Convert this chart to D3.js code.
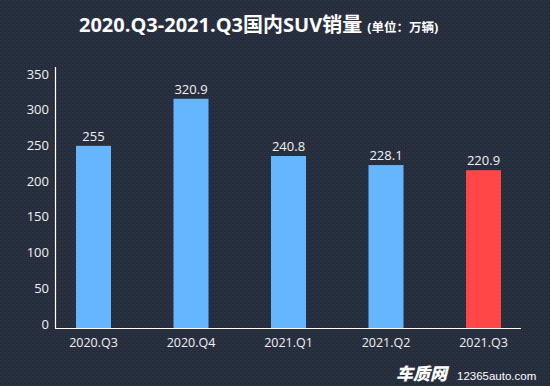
<!DOCTYPE html>
<html>
<head>
<meta charset="utf-8">
<script src="https://cdn.jsdelivr.net/npm/d3@7"></script>
<style>
html,body{margin:0;padding:0;background:#262e3d;}
svg{display:block;}
</style>
</head>
<body>
<svg id="chart" width="550" height="386"></svg>
<script>
const categories = ["2020.Q3", "2020.Q4", "2021.Q1", "2021.Q2", "2021.Q3"];
const values = [255, 320.9, 240.8, 228.1, 220.9];
const yTicks = [0, 50, 100, 150, 200, 250, 300, 350];
const barColors = ["#66b5ff", "#66b5ff", "#66b5ff", "#66b5ff", "#ff4747"];

const FONT = "'Open Sans','Noto Sans CJK SC',sans-serif";
const svg = d3.select("#chart");

// background with subtle texture
const defs = svg.append("defs");
const pat = defs.append("pattern").attr("id", "tex").attr("width", 4).attr("height", 4).attr("patternUnits", "userSpaceOnUse");
pat.append("rect").attr("width", 4).attr("height", 4).attr("fill", "#262e3d");
pat.append("rect").attr("x", 0).attr("y", 0).attr("width", 1).attr("height", 1).attr("fill", "#303a4b");
pat.append("rect").attr("x", 2).attr("y", 2).attr("width", 1).attr("height", 1).attr("fill", "#303a4b");
pat.append("rect").attr("x", 1).attr("y", 3).attr("width", 1).attr("height", 1).attr("fill", "#1f2633");
svg.append("rect").attr("width", 550).attr("height", 386).attr("fill", "url(#tex)");

const x = d3.scaleBand().domain(categories).range([44.75, 532.25]).paddingInner(0.641).paddingOuter(0.3205);
const y = d3.scaleLinear().domain([0, 350]).range([328, 78]);

// bars
svg.append("g").selectAll("rect").data(categories).join("rect")
  .attr("x", d => x(d))
  .attr("width", x.bandwidth())
  .attr("y", (d, i) => y(values[i]))
  .attr("height", (d, i) => y(0) - y(values[i]))
  .attr("fill", (d, i) => barColors[i]);

// value labels
svg.append("g").selectAll("text").data(categories).join("text")
  .attr("x", d => x(d) + x.bandwidth() / 2)
  .attr("y", (d, i) => y(values[i]) - 5)
  .attr("text-anchor", "middle")
  .attr("fill", "#f2f2f2")
  .attr("font-family", FONT)
  .attr("font-size", 13)
  .text((d, i) => values[i]);

// y axis
const yAxis = svg.append("g").attr("transform", "translate(55,0)")
  .call(d3.axisLeft(y).tickValues(yTicks).tickSize(0).tickPadding(6));
yAxis.select(".domain").remove();
yAxis.selectAll("text").attr("fill", "#f2f2f2").attr("font-family", FONT).attr("font-size", 13).attr("dy", "0.0em");
svg.append("line").attr("x1", 55.5).attr("x2", 55.5).attr("y1", 67).attr("y2", 328.5).attr("stroke", "#ffffff").attr("stroke-width", 1.2);

// x axis
const xAxis = svg.append("g").attr("transform", "translate(0,328)")
  .call(d3.axisBottom(x).tickSize(0).tickPadding(10));
xAxis.select(".domain").remove();
xAxis.selectAll("text").attr("fill", "#f2f2f2").attr("font-family", FONT).attr("font-size", 12.5);
svg.append("line").attr("x1", 55).attr("x2", 521).attr("y1", 328.5).attr("y2", 328.5).attr("stroke", "#ffffff").attr("stroke-width", 1.2);

// title
const title = svg.append("text").attr("x", 79).attr("y", 32).attr("fill", "#ffffff").attr("font-family", FONT);
title.append("tspan").attr("font-size", 20).attr("font-weight", "bold").text("2020.Q3-2021.Q3国内SUV销量");
title.append("tspan").attr("dx", 5).attr("font-size", 12.5).attr("font-weight", "bold").text("(单位：万辆)");

// watermark
svg.append("text").attr("x", 396).attr("y", 380).attr("fill", "#ffffff")
  .attr("font-family", "'Noto Sans CJK SC',sans-serif").attr("font-size", 17).attr("font-weight", "900")
  .attr("font-style", "italic").text("车质网");
svg.append("text").attr("x", 457).attr("y", 380).attr("fill", "#ffffff")
  .attr("font-family", "'Liberation Sans',Arial,sans-serif").attr("font-size", 11.5).text("12365auto.com");
</script>
</body>
</html>
